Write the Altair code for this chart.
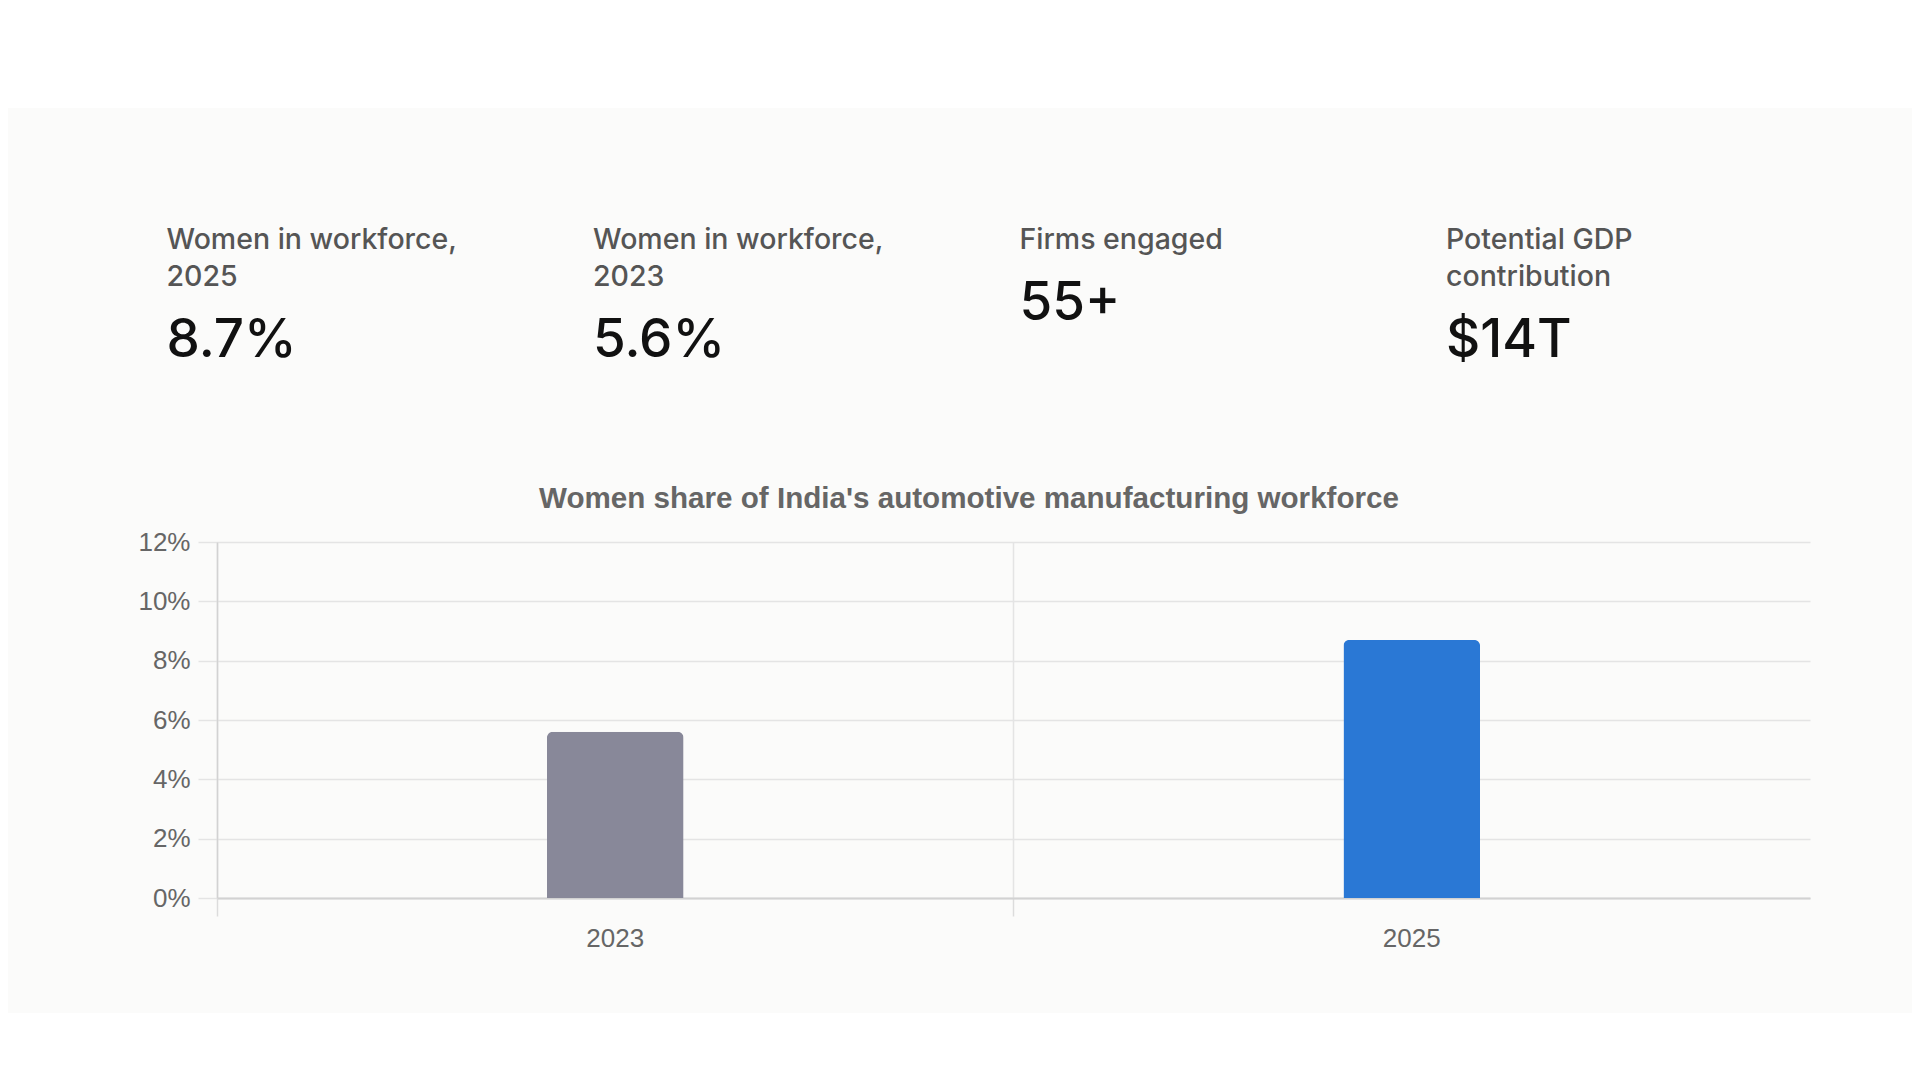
import pandas as pd
import altair as alt

# chart data
years = ["2023", "2025"]
shares = [5.6, 8.7]
bar_colors = ["#888899", "#2a78d5"]

# KPI strip
kpi_labels = [
    ["Women in workforce,", "2025"],
    ["Women in workforce,", "2023"],
    ["Firms engaged"],
    ["Potential GDP", "contribution"],
]
kpi_values = ["8.7%", "5.6%", "55+", "$14T"]

title_text = "Women share of India's automotive manufacturing workforce"
y_ticks = [0, 2, 4, 6, 8, 10, 12]

bars_df = pd.DataFrame({"year": years, "share": shares})
kpi_data = alt.Data(values=[
    {"idx": i, "label": lab, "value": val}
    for i, (lab, val) in enumerate(zip(kpi_labels, kpi_values))
])

W, H = 1593, 356
axis_font = "Liberation Sans"
kpi_font = "Inter"
card = "#fbfbfa"

# white page strips above and below the card (chart background is the card colour)
one = pd.DataFrame({"p": [0]})
top_strip = alt.Chart(one).mark_rect(color="#ffffff").encode(
    x=alt.value(-215), x2=alt.value(1700), y=alt.value(-540), y2=alt.value(-434)
)
bottom_strip = alt.Chart(one).mark_rect(color="#ffffff").encode(
    x=alt.value(-215), x2=alt.value(1700), y=alt.value(471), y2=alt.value(540)
)

bars = alt.Chart(bars_df).mark_bar(
    width=alt.RelativeBandSize(0.1715),
    cornerRadiusTopLeft=6,
    cornerRadiusTopRight=6,
).encode(
    x=alt.X("year:N", sort=years,
            scale=alt.Scale(paddingInner=0, paddingOuter=0),
            axis=alt.Axis(title=None, orient="bottom", labels=False, grid=True, bandPosition=0,
                          gridColor="#e4e4e4", gridWidth=1.5,
                          ticks=True, tickSize=18, tickColor="#dcdcdc", tickWidth=1.5,
                          domain=True, domainColor="#d2d2d2", domainWidth=2)),
    y=alt.Y("share:Q", scale=alt.Scale(domain=[0, 12], nice=False),
            axis=alt.Axis(title=None, orient="left", values=y_ticks,
                          labelExpr="datum.value + '%'",
                          grid=True, gridColor="#e4e4e4", gridWidth=1.5,
                          tickSize=19, tickColor="#e4e4e4", tickWidth=1.5,
                          domain=True, domainColor="#d2d2d2", domainWidth=1.5,
                          labelFont=axis_font, labelFontSize=26, labelColor="#666666",
                          labelPadding=8)),
    color=alt.Color("year:N", scale=alt.Scale(domain=years, range=bar_colors), legend=None),
)

# x labels centred in each band
xlabels = alt.Chart(bars_df).mark_bar(opacity=0).encode(
    x=alt.X("year:N", sort=years,
            scale=alt.Scale(paddingInner=0, paddingOuter=0),
            axis=alt.Axis(title=None, orient="bottom", labelAngle=0, grid=False,
                          ticks=False, tickSize=0, domain=False,
                          labelFont=axis_font, labelFontSize=26,
                          labelColor="#666666", labelPadding=27)),
    y=alt.Y("share:Q", scale=alt.Scale(domain=[0, 12]), axis=None),
)

title = alt.Chart(pd.DataFrame({"t": [title_text]})).mark_text(
    font=axis_font, fontSize=29.6, fontWeight="bold", color="#666666",
    align="center", baseline="alphabetic"
).encode(text="t:N", x=alt.value(752), y=alt.value(-34))

kpi_x = alt.X("idx:Q", scale=alt.Scale(domain=[0, 3], range=[-50.5, 1229]), axis=None)

kpi_label = alt.Chart(kpi_data).mark_text(
    font=kpi_font, fontSize=28.5, fontWeight=500, color="#555555", align="left",
    baseline="top", lineHeight=37
).encode(x=kpi_x, y=alt.value(-316), text="label:N")

kpi_value = alt.Chart(kpi_data).mark_text(
    font=kpi_font, fontSize=53, fontWeight=500, color="#111111", align="left",
    baseline="alphabetic"
).transform_calculate(
    nlines="length(datum.label)"
).encode(
    x=kpi_x,
    y=alt.Y("nlines:Q", scale=alt.Scale(domain=[1, 2], range=[-222, -185]), axis=None),
    text="value:N",
)

chart = alt.layer(top_strip, bottom_strip, bars, xlabels, title, kpi_label, kpi_value).resolve_scale(
    x="independent", y="independent"
).properties(
    width=W, height=H,
    autosize=alt.AutoSizeParams(type="none"),
    padding={"left": 209, "top": 534, "right": 102, "bottom": 174},
    background=card,
).configure_view(stroke=None)

chart.save("out.html", embed_options={"renderer": "svg", "actions": False})
